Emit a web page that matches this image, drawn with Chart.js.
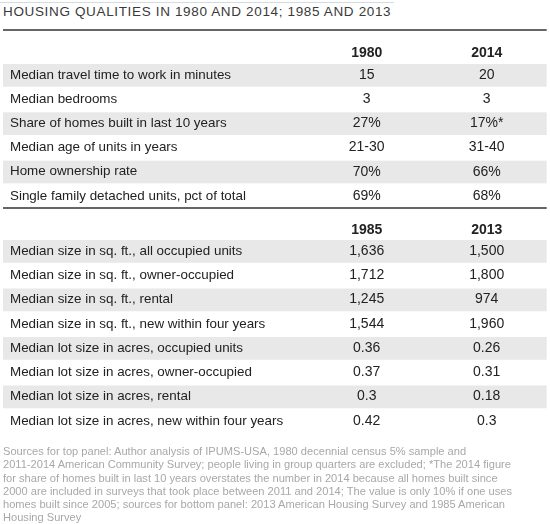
<!DOCTYPE html>
<html>
<head>
<meta charset="utf-8">
<script src="https://cdn.jsdelivr.net/npm/chart.js@4"></script>
<style>
  body { margin: 0; background: #fff; width: 550px; height: 524px; position: relative; overflow: hidden;
         font-family: "Liberation Sans", Arial, sans-serif; }
  .topline { position: absolute; left: 0; top: 2px; width: 394px; height: 1px; background: #d3dce1; }
  .title { position: absolute; left: 3px; top: 5px; font-size: 13.5px; line-height: 14px; letter-spacing: 0.65px;
           color: #3a3a3a; white-space: nowrap; }
  canvas { position: absolute; left: 0; }
  #top { top: 29px; }
  #bottom { top: 207px; }
  .note { position: absolute; left: 3px; top: 445px; font-size: 11.1px; line-height: 13.3px; color: #a8a8a8;
          white-space: nowrap; }
</style>
</head>
<body>
<div class="topline"></div>
<div class="title">HOUSING QUALITIES IN 1980 AND 2014; 1985 AND 2013</div>
<canvas id="top" width="550" height="179"></canvas>
<canvas id="bottom" width="550" height="226"></canvas>
<div class="note">
Sources for top panel: Author analysis of IPUMS-USA, 1980 decennial census 5% sample and<br>
2011-2014 American Community Survey; people living in group quarters are excluded; *The 2014 figure<br>
for share of homes built in last 10 years overstates the number in 2014 because all homes built since<br>
2000 are included in surveys that took place between 2011 and 2014; The value is only 10% if one uses<br>
homes built since 2005; sources for bottom panel: 2013 American Housing Survey and 1985 American<br>
Housing Survey
</div>
<script>
// top panel
const topYears = ['1980', '2014'];
const topRows = [
  'Median travel time to work in minutes',
  'Median bedrooms',
  'Share of homes built in last 10 years',
  'Median age of units in years',
  'Home ownership rate',
  'Single family detached units, pct of total'
];
const top1980 = ['15', '3', '27%', '21-30', '70%', '69%'];
const top2014 = ['20', '3', '17%*', '31-40', '66%', '68%'];

// bottom panel
const bottomYears = ['1985', '2013'];
const bottomRows = [
  'Median size in sq. ft., all occupied units',
  'Median size in sq. ft., owner-occupied',
  'Median size in sq. ft., rental',
  'Median size in sq. ft., new within four years',
  'Median lot size in acres, occupied units',
  'Median lot size in acres, owner-occupied',
  'Median lot size in acres, rental',
  'Median lot size in acres, new within four years'
];
const bottom1985 = ['1,636', '1,712', '1,245', '1,544', '0.36', '0.37', '0.3', '0.42'];
const bottom2013 = ['1,500', '1,800', '974', '1,960', '0.26', '0.31', '0.18', '0.3'];

Chart.defaults.font.family = '"Liberation Sans", Arial, sans-serif';
Chart.defaults.font.size = 14;
Chart.defaults.color = '#222';

// shaded rows, the rule above the header and the cell texts
const tablePlugin = {
  id: 'tableCells',
  beforeDraw(chart) {
    const ctx = chart.ctx;
    const y = chart.scales.y;
    const area = chart.chartArea;
    const pitch = (area.bottom - area.top) / y.ticks.length;
    ctx.save();
    ctx.fillStyle = '#e8e8e8';
    y.ticks.forEach((t, i) => {
      if (i % 2 === 0) {
        const c = y.getPixelForValue(i);
        ctx.fillRect(3, c - pitch / 2 + 1, area.right - 3, pitch - 1.5);
      }
    });
    ctx.strokeStyle = '#333';
    ctx.lineWidth = 1.5;
    ctx.beginPath();
    ctx.moveTo(3, 1);
    ctx.lineTo(area.right, 1);
    ctx.stroke();
    ctx.restore();
  },
  afterDatasetsDraw(chart) {
    const ctx = chart.ctx;
    ctx.save();
    ctx.font = '14px "Liberation Sans", Arial, sans-serif';
    ctx.fillStyle = '#222';
    ctx.textAlign = 'center';
    ctx.textBaseline = 'middle';
    chart.data.datasets.forEach((ds, di) => {
      chart.getDatasetMeta(di).data.forEach((pt, i) => {
        ctx.fillText(ds.cells[i], pt.x, pt.y);
      });
    });
    ctx.restore();
  }
};

function makeTable(id, years, rows, colA, colB, axisHeight, headerPad) {
  const cols = [colA, colB];
  return new Chart(document.getElementById(id), {
    type: 'line',
    data: {
      datasets: cols.map((cells, ci) => ({
        label: years[ci],
        cells: cells,
        data: rows.map(r => ({ x: years[ci], y: r })),
        showLine: false,
        pointRadius: 0
      }))
    },
    options: {
      responsive: false,
      animation: false,
      events: [],
      layout: { padding: { left: 10, right: 3.3, top: 0, bottom: 0 } },
      plugins: { legend: { display: false }, tooltip: { enabled: false } },
      scales: {
        x: {
          type: 'category',
          labels: years,
          position: 'top',
          offset: true,
          grid: { display: false, drawTicks: false },
          border: { display: false },
          ticks: { font: { weight: 'bold', size: 14 }, color: '#222', padding: headerPad },
          afterFit(s) { s.height = axisHeight; }
        },
        y: {
          type: 'category',
          labels: rows,
          offset: true,
          grid: { display: false, drawTicks: false },
          border: { display: false },
          ticks: { crossAlign: 'far', autoSkip: false, color: '#222', padding: 0, font: { size: 13.4 } },
          afterFit(s) {
            s.width = 296.7;
            s.paddingTop = 0;
            s.paddingBottom = 0;
          }
        }
      }
    },
    plugins: [tablePlugin]
  });
}

makeTable('top', topYears, topRows, top1980, top2014, 34, 1.6);
makeTable('bottom', bottomYears, bottomRows, bottom1985, bottom2013, 32, 0.6);
</script>
</body>
</html>
